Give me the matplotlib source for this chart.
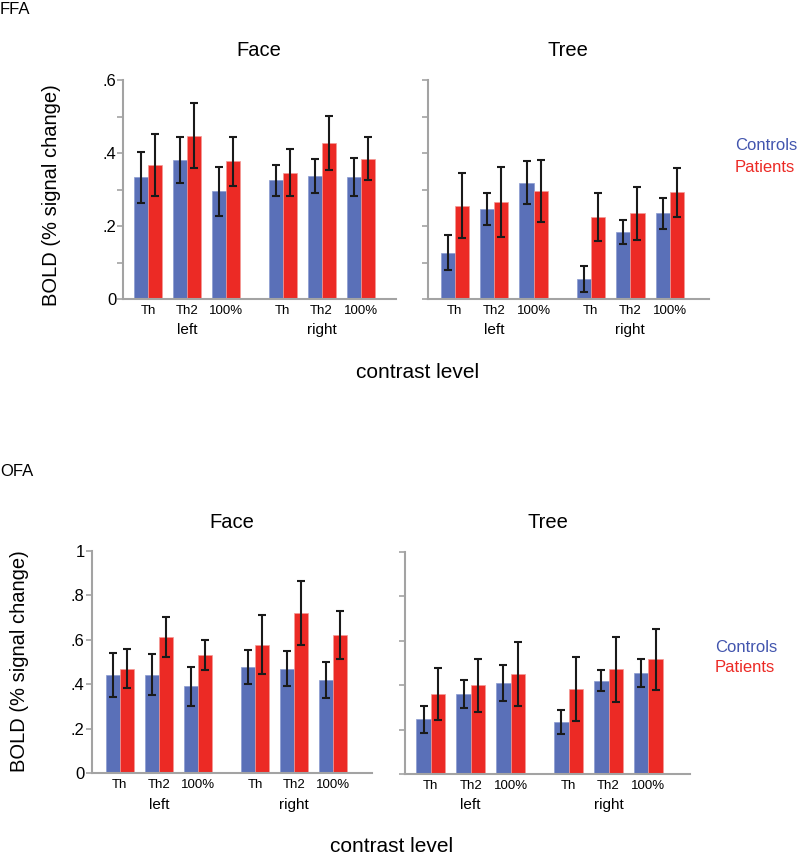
import matplotlib
matplotlib.use("Agg")
import matplotlib.pyplot as plt
import numpy as np

plt.rcParams['font.family'] = ['Liberation Sans', 'DejaVu Sans']

CONDITIONS = ["Th", "Th2", "100%", "Th", "Th2", "100%"]
HEMISPHERES = ["left", "right"]
POSITIONS = [0, 1, 2, 3.45, 4.45, 5.45]

# FFA
ffa_face_ctrl = [0.333, 0.381, 0.295, 0.325, 0.337, 0.333]
ffa_face_ctrl_err = [0.070, 0.063, 0.068, 0.043, 0.047, 0.052]
ffa_face_pat = [0.367, 0.448, 0.377, 0.346, 0.428, 0.384]
ffa_face_pat_err = [0.086, 0.090, 0.067, 0.065, 0.074, 0.059]
ffa_tree_ctrl = [0.127, 0.247, 0.319, 0.055, 0.183, 0.235]
ffa_tree_ctrl_err = [0.048, 0.043, 0.058, 0.036, 0.033, 0.042]
ffa_tree_pat = [0.256, 0.266, 0.296, 0.225, 0.235, 0.293]
ffa_tree_pat_err = [0.088, 0.095, 0.085, 0.065, 0.072, 0.067]

# OFA
ofa_face_ctrl = [0.442, 0.442, 0.391, 0.476, 0.470, 0.418]
ofa_face_ctrl_err = [0.097, 0.092, 0.088, 0.076, 0.078, 0.080]
ofa_face_pat = [0.470, 0.611, 0.530, 0.578, 0.719, 0.621]
ofa_face_pat_err = [0.087, 0.090, 0.068, 0.133, 0.144, 0.107]
ofa_tree_ctrl = [0.246, 0.360, 0.409, 0.235, 0.421, 0.454]
ofa_tree_ctrl_err = [0.062, 0.064, 0.082, 0.054, 0.048, 0.063]
ofa_tree_pat = [0.360, 0.399, 0.450, 0.382, 0.472, 0.517]
ofa_tree_pat_err = [0.116, 0.120, 0.144, 0.143, 0.147, 0.137]

FFA_YTICKS = [0, 0.1, 0.2, 0.3, 0.4, 0.5, 0.6]
FFA_YLABELS = ["0", "", ".2", "", ".4", "", ".6"]
OFA_YTICKS = [0, 0.2, 0.4, 0.6, 0.8, 1.0]
OFA_YLABELS = ["0", ".2", ".4", ".6", ".8", "1"]

BLUE = "#5a70b8"
RED = "#ec2a25"
SPINE = "#a3a3a3"
W, H = 800, 856
BW = 0.36


def px(x, y):
    return x / W, 1 - y / H


def panel(fig, rect, xlim, ylim, yticks, ylabels, ctrl, ctrl_err, pat, pat_err, show_labels):
    ax = fig.add_axes(rect)
    pos = np.array(POSITIONS)
    ax.bar(pos - BW / 2, ctrl, BW, color=BLUE, edgecolor="#8a9bd0", linewidth=0.5)
    ax.bar(pos + BW / 2, pat, BW, color=RED, edgecolor="#f39a96", linewidth=0.5)
    ax.errorbar(pos - BW / 2, ctrl, yerr=ctrl_err, fmt="none", ecolor="#1a1a1a",
                elinewidth=1.5, capsize=2.8, capthick=1.5)
    ax.errorbar(pos + BW / 2, pat, yerr=pat_err, fmt="none", ecolor="#1a1a1a",
                elinewidth=1.5, capsize=2.8, capthick=1.5)
    ax.set_xlim(*xlim)
    ax.set_ylim(*ylim)
    ax.set_xticks(pos, CONDITIONS, fontsize=9.5)
    ax.set_yticks(yticks)
    ax.set_yticklabels(ylabels if show_labels else [], fontsize=12)
    ax.tick_params(axis="x", length=0, pad=4)
    ax.tick_params(axis="y", length=4, width=1.2, color=SPINE, pad=1)
    for s in ["top", "right"]:
        ax.spines[s].set_visible(False)
    for s in ["left", "bottom"]:
        ax.spines[s].set_color(SPINE)
        ax.spines[s].set_linewidth(1.5)
    for hemi, p in zip(HEMISPHERES, [pos[1], pos[4]]):
        ax.annotate(hemi, xy=(p, 0), xycoords=("data", "axes fraction"),
                    xytext=(0, -22.5), textcoords="offset points",
                    ha="center", va="center", fontsize=11)
    return ax


fig = plt.figure(figsize=(8, 8.56), dpi=100)

panel(fig, [0.154, 0.6507, 0.341, 0.2558], (-0.64, 6.36), (0, 0.6),
      FFA_YTICKS, FFA_YLABELS, ffa_face_ctrl, ffa_face_ctrl_err, ffa_face_pat, ffa_face_pat_err, True)
panel(fig, [0.535, 0.6507, 0.351, 0.2558], (-0.68, 6.44), (0, 0.6),
      FFA_YTICKS, FFA_YLABELS, ffa_tree_ctrl, ffa_tree_ctrl_err, ffa_tree_pat, ffa_tree_pat_err, False)
panel(fig, [0.1146, 0.0966, 0.351, 0.26], (-0.72, 6.45), (0, 1.0),
      OFA_YTICKS, OFA_YLABELS, ofa_face_ctrl, ofa_face_ctrl_err, ofa_face_pat, ofa_face_pat_err, True)
panel(fig, [0.506, 0.0958, 0.356, 0.2593], (-0.65, 6.48), (0, 1.0),
      OFA_YTICKS, OFA_YLABELS, ofa_tree_ctrl, ofa_tree_ctrl_err, ofa_tree_pat, ofa_tree_pat_err, False)

# region labels and titles
fig.text(*px(0, 9), "FFA", fontsize=12, ha="left", va="center")
fig.text(*px(0, 472), "OFA", fontsize=12, ha="left", va="center")
fig.text(*px(259, 51), "Face", fontsize=14.5, ha="center", va="center")
fig.text(*px(568, 51), "Tree", fontsize=14.5, ha="center", va="center")
fig.text(*px(232, 522), "Face", fontsize=14.5, ha="center", va="center")
fig.text(*px(548, 522), "Tree", fontsize=14.5, ha="center", va="center")

fig.text(*px(52, 195), "BOLD (% signal change)", fontsize=14.5, rotation=90, ha="center", va="center")
fig.text(*px(20, 661), "BOLD (% signal change)", fontsize=14.5, rotation=90, ha="center", va="center")
fig.text(*px(418, 372), "contrast level", fontsize=15, ha="center", va="center")
fig.text(*px(392, 847), "contrast level", fontsize=15, ha="center", va="center")

fig.text(*px(735, 145), "Controls", fontsize=12, color="#4255ae", ha="left", va="center")
fig.text(*px(735, 167), "Patients", fontsize=12, color=RED, ha="left", va="center")
fig.text(*px(715, 647), "Controls", fontsize=12, color="#4255ae", ha="left", va="center")
fig.text(*px(715, 668), "Patients", fontsize=12, color=RED, ha="left", va="center")

fig.savefig("out.png", dpi=100)
